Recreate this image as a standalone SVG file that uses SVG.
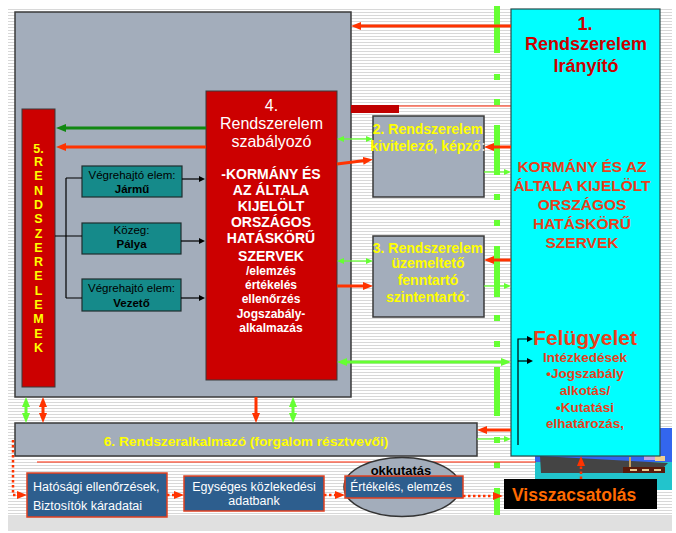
<svg xmlns="http://www.w3.org/2000/svg" width="676" height="533" viewBox="0 0 676 533">
<defs>
  <pattern id="stripes" x="0" y="0" width="6" height="3" patternUnits="userSpaceOnUse">
    <rect width="6" height="3" fill="#ffffff"/>
    <rect y="0" width="6" height="1" fill="#d8d8d8"/>
  </pattern>
  <marker id="mr" viewBox="0 0 10 8" refX="2" refY="4" markerWidth="10" markerHeight="8" markerUnits="userSpaceOnUse" orient="auto-start-reverse">
    <path d="M0,0 L10,4 L0,8 z" fill="#ff3300"/>
  </marker>
  <marker id="mg" viewBox="0 0 10 8" refX="2" refY="4" markerWidth="10" markerHeight="8" markerUnits="userSpaceOnUse" orient="auto-start-reverse">
    <path d="M0,0 L10,4 L0,8 z" fill="#66ff33"/>
  </marker>
  <marker id="mdg" viewBox="0 0 10 8" refX="2" refY="4" markerWidth="10" markerHeight="8" markerUnits="userSpaceOnUse" orient="auto-start-reverse">
    <path d="M0,0 L10,4 L0,8 z" fill="#118811"/>
  </marker>
  <marker id="mgs" viewBox="0 0 7 6" refX="1.5" refY="3" markerWidth="7" markerHeight="6" markerUnits="userSpaceOnUse" orient="auto-start-reverse">
    <path d="M0,0 L7,3 L0,6 z" fill="#66ff33"/>
  </marker>
  <marker id="mb" viewBox="0 0 6 6" refX="1" refY="3" markerWidth="6" markerHeight="6" markerUnits="userSpaceOnUse" orient="auto-start-reverse">
    <path d="M0,0 L6,3 L0,6 z" fill="#000000"/>
  </marker>
</defs>
<style>
  .panel { fill: #a3adbb; stroke: #3a3a3a; stroke-width: 1.5; }
  .red { fill: #cc0000; stroke: #3a3a3a; stroke-width: 1; }
  .teal { fill: #158a8a; stroke: #1e2e2e; stroke-width: 1.2; }
  .blue { fill: #2d5e8e; stroke: #e04020; stroke-width: 1.5; }
  .t { font-family: "Liberation Sans", Arial, sans-serif; text-anchor: middle; }
  .b { font-weight: bold; }
  .yel { fill: #ffff00; }
  .wh { fill: #ffffff; }
  .bk { fill: #000000; }
  .dred { fill: #cc0000; }
  .ored { fill: #e8401a; }
  .ar { fill: none; stroke: #ff3300; stroke-width: 3; }
  .ag { fill: none; stroke: #66ff33; stroke-width: 3; }
  .ags { fill: none; stroke: #66ff33; stroke-width: 1.3; }
  .al { fill: none; stroke: #000000; stroke-width: 1.2; }
  .dot { fill: none; stroke: #ff3300; stroke-width: 2.5; stroke-dasharray: 2.5 2.5; }
  .gbar { fill: #66ff33; }
</style>

<!-- background -->
<rect x="0" y="0" width="676" height="533" fill="#ffffff"/>
<rect x="8" y="8" width="664" height="507" fill="url(#stripes)"/>
<rect x="8" y="515" width="664" height="16" fill="#e0e0e0"/>

<!-- green dashed divider -->
<g id="divider">
  <rect class="gbar" x="494" y="6" width="6" height="47"/>
  <rect class="gbar" x="494" y="74" width="6" height="6"/>
  <rect class="gbar" x="494" y="99" width="6" height="6"/>
  <rect class="gbar" x="494" y="125" width="6" height="50"/>
  <rect class="gbar" x="494" y="194" width="6" height="6"/>
  <rect class="gbar" x="494" y="220" width="6" height="6"/>
  <rect class="gbar" x="494" y="246" width="6" height="51"/>
  <rect class="gbar" x="494" y="315" width="6" height="6"/>
  <rect class="gbar" x="494" y="341" width="6" height="6"/>
  <rect class="gbar" x="494" y="367" width="6" height="49"/>
  <rect class="gbar" x="494" y="437" width="6" height="6"/>
  <rect class="gbar" x="494" y="462" width="6" height="6"/>
  <rect class="gbar" x="494" y="488" width="6" height="27"/>
</g>

<!-- clipart (ship) -->
<g id="clipart">
  <rect x="535" y="428" width="137" height="35" fill="#3366ee"/>
  <rect x="535" y="462" width="137" height="28" fill="#22c4cc"/>
  <rect x="644" y="454" width="14" height="6" fill="#c4a4e4"/>
  <rect x="655" y="456" width="10" height="5" fill="#f0d090"/>
  <polygon points="540,456 668,463 664,467 625,468 625,473 541,473" fill="#444444"/>
  <rect x="629" y="457" width="2" height="10" fill="#c8a060"/>
  <rect x="623" y="467" width="42" height="6" fill="#5a1a0a"/>
  <rect x="630" y="469" width="7" height="2" fill="#e8c890"/>
  <rect x="642" y="469" width="7" height="2" fill="#e8c890"/>
  <rect x="654" y="469" width="7" height="2" fill="#e8c890"/>
</g>

<!-- main gray panel -->
<g id="panel">
  <rect class="panel" x="15" y="12" width="336" height="385"/>
</g>

<!-- thin red lines and bar -->
<g id="lines">
  <rect x="351" y="105" width="48" height="8" fill="#c00000"/>
  <line x1="399" y1="106" x2="511" y2="106" stroke="#ff2200" stroke-width="1"/>
  <line x1="37" y1="462" x2="536" y2="462" stroke="#ff2200" stroke-width="1"/>
</g>

<!-- node 1 -->
<g id="n1">
  <rect x="511" y="9" width="149" height="447" fill="#00ffff" stroke="#2a4a4a" stroke-width="1.2"/>
  <text class="t b dred" font-size="18" x="585" y="30">1.</text>
  <text class="t b dred" font-size="18" x="586" y="50">Rendszerelem</text>
  <text class="t b dred" font-size="18" x="586" y="72">Irányító</text>
  <text class="t b ored" font-size="15.5" x="582" y="172">KORMÁNY ÉS AZ</text>
  <text class="t b ored" font-size="15.5" x="582" y="191">ÁLTALA KIJELÖLT</text>
  <text class="t b ored" font-size="15.5" x="582" y="210">ORSZÁGOS</text>
  <text class="t b ored" font-size="15.5" x="582" y="229">HATÁSKÖRŰ</text>
  <text class="t b ored" font-size="15.5" x="582" y="248">SZERVEK</text>
  <text class="t b ored" font-size="21" x="585" y="345">Felügyelet</text>
  <text class="t b ored" font-size="13.5" x="585" y="362">Intézkedések</text>
  <text class="t b ored" font-size="13.5" x="585" y="378">•Jogszabály</text>
  <text class="t b ored" font-size="13.5" x="585" y="395">alkotás/</text>
  <text class="t b ored" font-size="13.5" x="585" y="412">•Kutatási</text>
  <text class="t b ored" font-size="13.5" x="585" y="428">elhatározás,</text>
</g>

<!-- node 4 -->
<g id="n4">
  <rect class="red" x="206" y="91" width="131" height="289"/>
  <text class="t wh" font-size="16" x="271.5" y="111">4.</text>
  <text class="t wh" font-size="16" x="271.5" y="129">Rendszerelem</text>
  <text class="t wh" font-size="16" x="271.5" y="147">szabályozó</text>
  <text class="t b wh" font-size="14" x="271" y="179">-KORMÁNY ÉS</text>
  <text class="t b wh" font-size="14" x="271" y="195">AZ ÁLTALA</text>
  <text class="t b wh" font-size="14" x="271" y="211">KIJELÖLT</text>
  <text class="t b wh" font-size="14" x="271" y="227">ORSZÁGOS</text>
  <text class="t b wh" font-size="14" x="271" y="243">HATÁSKÖRŰ</text>
  <text class="t b wh" font-size="14" x="271" y="261">SZERVEK</text>
  <text class="t b wh" font-size="12" x="271" y="275">/elemzés</text>
  <text class="t b wh" font-size="12" x="271" y="289">értékelés</text>
  <text class="t b wh" font-size="12" x="271" y="303">ellenőrzés</text>
  <text class="t b wh" font-size="12" x="271" y="318">Jogszabály-</text>
  <text class="t b wh" font-size="12" x="271" y="332">alkalmazás</text>
</g>

<!-- node 5 -->
<g id="n5">
  <rect class="red" x="22" y="109" width="33" height="278"/>
  <text class="t b yel" font-size="12.5" x="38.5" y="153">5.</text>
  <text class="t b yel" font-size="12.5" x="38.5" y="166">R</text>
  <text class="t b yel" font-size="12.5" x="38.5" y="180.3">E</text>
  <text class="t b yel" font-size="12.5" x="38.5" y="194.6">N</text>
  <text class="t b yel" font-size="12.5" x="38.5" y="208.9">D</text>
  <text class="t b yel" font-size="12.5" x="38.5" y="223.2">S</text>
  <text class="t b yel" font-size="12.5" x="38.5" y="237.5">Z</text>
  <text class="t b yel" font-size="12.5" x="38.5" y="251.8">E</text>
  <text class="t b yel" font-size="12.5" x="38.5" y="266.1">R</text>
  <text class="t b yel" font-size="12.5" x="38.5" y="280.4">E</text>
  <text class="t b yel" font-size="12.5" x="38.5" y="294.7">L</text>
  <text class="t b yel" font-size="12.5" x="38.5" y="309">E</text>
  <text class="t b yel" font-size="12.5" x="38.5" y="323.3">M</text>
  <text class="t b yel" font-size="12.5" x="38.5" y="337.6">E</text>
  <text class="t b yel" font-size="12.5" x="38.5" y="351.9">K</text>
</g>

<!-- teal nodes -->
<g id="n-jarmu">
  <rect class="teal" x="82" y="166" width="100" height="31"/>
  <text class="t bk" font-size="11.5" x="132" y="179">Végrehajtó elem:</text>
  <text class="t b bk" font-size="11.5" x="132" y="193">Jármű</text>
</g>
<g id="n-palya">
  <rect class="teal" x="82" y="223" width="99" height="31"/>
  <text class="t bk" font-size="11.5" x="131.5" y="234">Közeg:</text>
  <text class="t b bk" font-size="11.5" x="131.5" y="248">Pálya</text>
</g>
<g id="n-vezeto">
  <rect class="teal" x="82" y="279" width="99" height="32"/>
  <text class="t bk" font-size="11.5" x="131.5" y="292">Végrehajtó elem:</text>
  <text class="t b bk" font-size="11.5" x="131.5" y="307">Vezető</text>
</g>

<!-- node 2 -->
<g id="n2">
  <rect class="panel" x="373" y="116" width="111" height="81"/>
  <text class="t b yel" font-size="14" x="428" y="134">2. Rendszerelem</text>
  <text class="t b yel" font-size="14" x="428" y="151">kivitelező, képző<tspan fill="#d8d8d8">:</tspan></text>
</g>

<!-- node 3 -->
<g id="n3">
  <rect class="panel" x="373" y="236" width="111" height="81"/>
  <text class="t b yel" font-size="14" x="428" y="253">3. Rendszerelem</text>
  <text class="t b yel" font-size="14" x="428" y="268">üzemeltető</text>
  <text class="t b yel" font-size="14" x="428" y="285">fenntartó</text>
  <text class="t b yel" font-size="14" x="428" y="302">szintentartó<tspan fill="#d8d8d8">:</tspan></text>
</g>

<!-- node 6 -->
<g id="n6">
  <rect class="panel" x="15" y="423" width="462" height="33"/>
  <text class="t b yel" font-size="13.7" x="246" y="446">6. Rendszeralkalmazó (forgalom résztvevői)</text>
</g>

<!-- bottom nodes -->
<g id="n-hatosagi">
  <rect class="blue" x="27" y="473" width="140" height="44"/>
  <text class="wh" font-family="Liberation Sans, Arial, sans-serif" font-size="12.5" x="33" y="491">Hatósági ellenőrzések,</text>
  <text class="wh" font-family="Liberation Sans, Arial, sans-serif" font-size="12.5" x="33" y="510">Biztosítók káradatai</text>
</g>
<g id="n-adatbank">
  <rect class="blue" x="184" y="476" width="140" height="35"/>
  <text class="t wh" font-size="12.5" x="254" y="491">Egységes közlekedési</text>
  <text class="t wh" font-size="12.5" x="254" y="505">adatbank</text>
</g>
<g id="n-okkutatas">
  <ellipse cx="402" cy="487" rx="58" ry="29.5" fill="#a3adbb" stroke="#333333" stroke-width="1.5"/>
  <text class="t b bk" font-size="13" x="401" y="475">okkutatás</text>
  <rect class="blue" x="345" y="476" width="118" height="22"/>
  <text class="t wh" font-size="12" x="401" y="491">Értékelés, elemzés</text>
</g>
<g id="n-visszacsatolas">
  <rect x="504" y="479" width="153" height="30" fill="#000000"/>
  <text font-family="Liberation Sans, Arial, sans-serif" font-weight="bold" font-size="17.5" fill="#ff6a00" x="512" y="501">Visszacsatolás</text>
</g>

<!-- connectors -->
<g id="connectors">
  <!-- red solid -->
  <path class="ar" d="M511,26 H359" marker-end="url(#mr)"/>
  <path class="ar" d="M206,147 H64" marker-end="url(#mr)"/>
  <path class="ar" d="M337,164 L365,160.5" marker-end="url(#mr)"/>
  <path class="ar" d="M337,286 H365" marker-end="url(#mr)"/>
  <path class="ar" d="M511,147 H492" marker-end="url(#mr)"/>
  <path class="ar" d="M511,260 H492" marker-end="url(#mr)"/>
  <path class="ar" d="M511,430 H485" marker-end="url(#mr)"/>
  <path class="ar" stroke-width="2.5" d="M43,405 V415" marker-start="url(#mr)" marker-end="url(#mr)"/>
  <path class="ar" stroke-width="2.5" d="M256,397 V415" marker-end="url(#mr)"/>
  <!-- dark green -->
  <path fill="none" stroke="#118811" stroke-width="3" d="M206,128 H64" marker-end="url(#mdg)"/>
  <!-- light green -->
  <path class="ags" d="M342.5,139 H367.5" marker-start="url(#mgs)" marker-end="url(#mgs)"/>
  <path class="ags" d="M484,172 H505.5" marker-end="url(#mgs)"/>
  <path class="ags" d="M342.5,261 H367.5" marker-start="url(#mgs)" marker-end="url(#mgs)"/>
  <path class="ags" d="M484,286 H505.5" marker-end="url(#mgs)"/>
  <path class="ags" d="M477,439 H505.5" marker-end="url(#mgs)"/>
  <path class="ag" d="M345,362 H503" marker-start="url(#mg)" marker-end="url(#mg)"/>
  <path class="ag" stroke-width="2.5" d="M26,405 V415" marker-start="url(#mg)" marker-end="url(#mg)"/>
  <path class="ag" stroke-width="2.5" d="M293,405 V415" marker-start="url(#mg)" marker-end="url(#mg)"/>
  <!-- black tree -->
  <path class="al" d="M55,236 H82 M66,178 V298 M66,178 H82 M66,298 H82"/>
  <path class="al" d="M182,179 H200" marker-end="url(#mb)"/>
  <path class="al" d="M181,241 H200" marker-end="url(#mb)"/>
  <path class="al" d="M181,298 H200" marker-end="url(#mb)"/>
  <path class="al" d="M518,445 V339 H528" marker-end="url(#mb)"/>
  <path class="al" d="M518,361 H528" marker-end="url(#mb)"/>
  <!-- dotted feedback -->
  <path class="dot" d="M13,440 V495 H19" marker-end="url(#mr)"/>
  <path class="dot" d="M167,495 H176" marker-end="url(#mr)"/>
  <path class="dot" d="M324,495 H337" marker-end="url(#mr)"/>
  <path class="dot" d="M463,496 H495" marker-end="url(#mr)"/>
  <path class="dot" d="M581,479 V464" marker-end="url(#mr)"/>
</g>
</svg>
